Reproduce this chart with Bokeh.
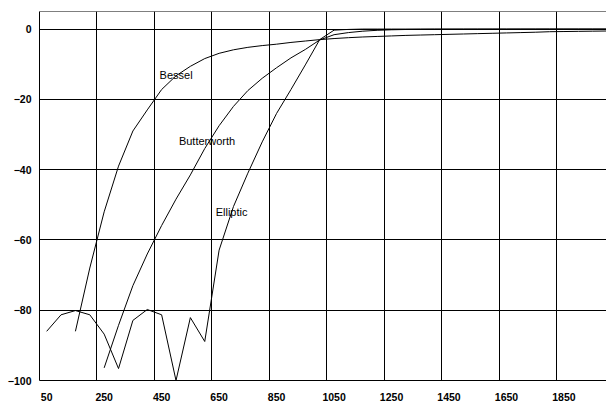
import math
from bokeh.plotting import figure
from bokeh.models import Range1d, FixedTicker, ColumnDataSource, Span
from bokeh.core.properties import value
from bokeh.embed import file_html
from bokeh.resources import INLINE

NaN = float("nan")

# Frequencies (categories, step 50)
freq = [50, 100, 150, 200, 250, 300, 350, 400, 450, 500,
        550, 600, 650, 700, 750, 800, 850, 900, 950, 1000,
        1050, 1100, 1150, 1200, 1250, 1300, 1350, 1400, 1450, 1500,
        1550, 1600, 1650, 1700, 1750, 1800, 1850, 1900, 1950, 2000]

bessel = [NaN, NaN, -86.0, -68.0, -52.0, -39.0, -29.0, -23.0, -17.2, -13.3,
          -10.6, -8.4, -6.9, -5.9, -5.2, -4.7, -4.3, -3.8, -3.4, -3.0,
          -2.7, -2.45, -2.25, -2.1, -1.95, -1.8, -1.7, -1.6, -1.5, -1.4,
          -1.3, -1.2, -1.1, -1.0, -0.9, -0.75, -0.7, -0.65, -0.6, -0.55]

butterworth = [NaN, NaN, NaN, NaN, -96.4, -84.3, -73.0, -64.0, -55.9, -48.4,
               -41.5, -34.0, -27.5, -22.0, -17.5, -14.0, -11.0, -8.2, -5.8, -3.1,
               -1.6, -1.0, -0.6, -0.35, -0.2, -0.12, -0.08, -0.05, -0.05, -0.04,
               -0.03, -0.02, -0.02, -0.01, -0.01, 0.0, 0.0, 0.0, 0.0, 0.0]

elliptic = [-86.0, -81.3, -80.1, -81.3, -86.8, -96.6, -82.9, -79.8, -81.3, -100.0,
            -82.1, -88.9, -62.9, -50.5, -41.0, -32.1, -24.0, -17.2, -10.2, -3.0,
            -0.3, -0.1, 0.0, 0.0, 0.0, 0.0, 0.0, 0.0, 0.0, 0.0,
            0.0, 0.0, 0.0, 0.0, 0.0, 0.0, 0.0, 0.0, 0.0, 0.0]

x_tick_labels = [50, 250, 450, 650, 850, 1050, 1250, 1450, 1650, 1850]
x_grid_ticks = [225, 425, 625, 825, 1025, 1225, 1425, 1625, 1825]
y_ticks = [-100, -80, -60, -40, -20, 0]
y_top = 5

label_text = ["Bessel", "Butterworth", "Elliptic"]
label_x = [443, 510, 638]
label_y = [-13.1, -31.9, -52.1]

p = figure(width=606, height=403, output_backend="svg", toolbar_location=None,
           x_range=Range1d(25, 1998), y_range=Range1d(-100, y_top),
           min_border_left=39, min_border_top=11, min_border_right=0,
           min_border_bottom=20)

p.background_fill_color = "white"
p.border_fill_color = "white"
p.outline_line_color = None

p.add_layout(Span(location=y_top, dimension="width", line_color="black",
                  line_width=1))

for series in (bessel, butterworth, elliptic):
    p.line(freq, series, line_color="black", line_width=1)

src = ColumnDataSource(dict(x=label_x, y=label_y, t=label_text))
p.text(x="x", y="y", text="t", source=src, text_font=value("Liberation Sans"),
       text_font_size="11px", text_color="black", text_align="left",
       text_baseline="middle")

# axes
p.xaxis.ticker = FixedTicker(ticks=x_tick_labels)
p.yaxis.ticker = FixedTicker(ticks=y_ticks)
for ax in (p.xaxis, p.yaxis):
    ax.major_tick_out = 0
    ax.major_tick_in = 0
    ax.minor_tick_out = 0
    ax.minor_tick_in = 0
    ax.axis_line_color = "black"
    ax.axis_line_width = 1
    ax.major_label_text_font = "Liberation Sans"
    ax.major_label_text_font_style = "bold"
    ax.major_label_text_font_size = "10.5px"
    ax.major_label_text_color = "black"
p.xaxis.major_label_standoff = 12
p.yaxis.major_label_standoff = 8

p.xgrid.ticker = FixedTicker(ticks=x_grid_ticks)
p.ygrid.ticker = FixedTicker(ticks=y_ticks)
for g in (p.xgrid, p.ygrid):
    g.grid_line_color = "black"
    g.grid_line_alpha = 1.0
    g.grid_line_width = 1

open("out.html", "w").write(file_html(p, INLINE))
